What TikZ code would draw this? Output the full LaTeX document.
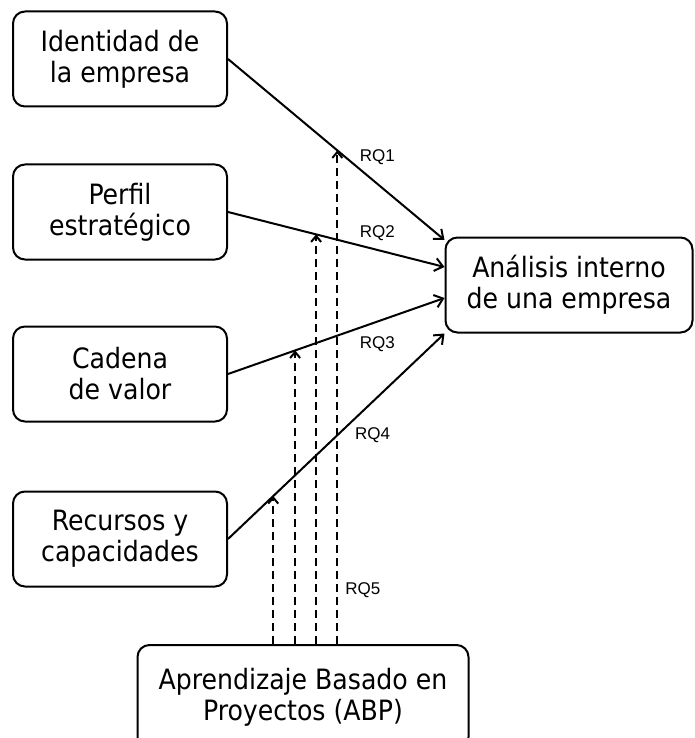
\documentclass[tikz,border=0pt]{standalone}
\usepackage{fontspec}
\setmainfont{DejaVu Sans Condensed}
\newfontfamily\rqfont{Liberation Sans}
\usetikzlibrary{positioning,arrows.meta}

\begin{document}
\begin{tikzpicture}[x=1pt, y=-1pt, line width=2pt, node distance=56pt,
  caja/.style = {draw, rounded corners=12pt, minimum width=214pt, minimum height=95pt,
    align=center, font=\fontsize{28}{31}\selectfont},
  flecha/.style = {-{Straight Barb[length=8pt,width=13pt]}},
  punteada/.style = {-{Straight Barb[length=6pt,width=10pt]}, dash pattern=on 8pt off 5pt},
  rq/.style = {font=\rqfont\fontsize{17}{18}\selectfont, inner sep=1pt}]
\useasboundingbox (0,0) rectangle (694,738);
\node[caja] (iden) at (120,59) {Identidad de\\la empresa};
\node[caja] (perf) [below=56pt of iden] {Perfil\\estratégico};
\node[caja] (cad) [below=65pt of perf] {Cadena\\de valor};
\node[caja] (rec) [below=68pt of cad] {Recursos y\\capacidades};
\node[caja, minimum width=247pt] (ana) at (569,285) {Análisis interno\\de una empresa};
\node[caja, minimum width=331pt, minimum height=104pt] (abp) at (303,697) {Aprendizaje Basado en\\Proyectos (ABP)};
% relaciones
\draw[flecha] (iden.east) -- coordinate[pos=0.505] (t1)
  node[rq, pos=0.6, anchor=south west, yshift=1pt] {RQ1} ([yshift=45pt]ana.west);
\draw[flecha] (perf.east) -- coordinate[pos=0.407] (t2)
  node[rq, pos=0.6, anchor=south west, yshift=2pt] {RQ2} ([yshift=18pt]ana.west);
\draw[flecha] (cad.east) -- coordinate[pos=0.31] (t3)
  node[rq, pos=0.6, anchor=north west, yshift=-6pt] {RQ3} ([yshift=-13pt]ana.west);
\draw[flecha] (rec.east) -- coordinate[pos=0.209] (t4)
  node[rq, pos=0.578, anchor=north west, yshift=-5pt] {RQ4} (ana.south west);
% moderacion
\draw[punteada] (t1 |- abp.north) -- node[rq, pos=0.11, anchor=west, xshift=6pt] {RQ5} (t1);
\foreach \t in {t2,t3,t4}
  \draw[punteada] (\t |- abp.north) -- (\t);
\end{tikzpicture}
\end{document}
